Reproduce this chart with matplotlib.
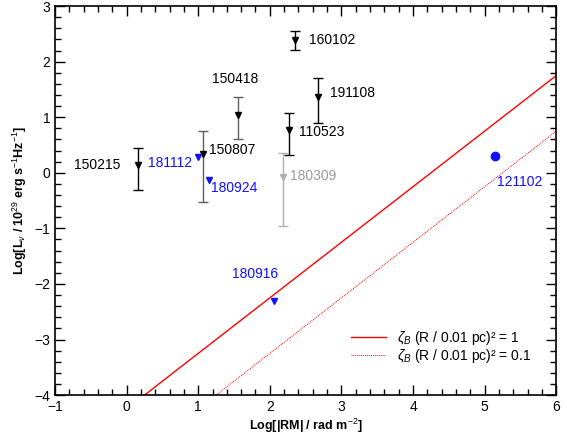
import numpy as np
import matplotlib
matplotlib.use("Agg")
import matplotlib.pyplot as plt
from matplotlib.ticker import MultipleLocator

plt.rcParams['font.family'] = ['Liberation Sans', 'DejaVu Sans']
plt.rcParams['mathtext.fontset'] = 'custom'
plt.rcParams['mathtext.rm'] = 'Liberation Sans'
plt.rcParams['mathtext.it'] = 'Liberation Sans:italic'
plt.rcParams['mathtext.bf'] = 'Liberation Sans:bold'

# FRB upper limits: name, log|RM|, log L, error down, error up
names = ['150215', '160102', '150418', '191108', '110523', '150807', '180309']
log_rm = [0.16, 2.35, 1.55, 2.67, 2.27, 1.07, 2.18]
log_l = [0.14, 2.39, 1.04, 1.37, 0.77, 0.34, -0.07]
err_lo = [0.45, 0.18, 0.44, 0.47, 0.45, 0.86, 0.88]
err_hi = [0.30, 0.16, 0.33, 0.34, 0.31, 0.42, 0.42]
bar_colors = ['black', 'black', '#606060', 'black', 'black', '#606060', '#b0b0b0']
mark_colors = ['black', 'black', 'black', 'black', 'black', 'black', '#b0b0b0']
text_colors = ['black', 'black', 'black', 'black', 'black', 'black', '#999999']
# label offsets in pixels (dx, dy) and alignment
offsets = [(-18, 0), (14, 0), (-2, 36), (12, 4), (10, -2), (6, 4), (7, 1)]
aligns = ['right', 'left', 'center', 'left', 'left', 'left', 'left']

# blue sources without error bars
blue_names = ['181112', '180924', '180916', '121102']
blue_rm = [1.00, 1.15, 2.06, 5.15]
blue_l = [0.28, -0.13, -2.31, 0.31]
blue_markers = ['v', 'v', 'v', 'o']
blue_offsets = [(-6, -6), (2, -8), (-19, 27), (2, -26)]
blue_aligns = ['right', 'left', 'center', 'left']

# model lines: log L = log|RM| + offset
model_offsets = [-4.25, -5.25]
model_labels = [r'$\zeta_B$ (R / 0.01 pc)² = 1', r'$\zeta_B$ (R / 0.01 pc)² = 0.1']

fig = plt.figure(figsize=(5.67, 4.38), dpi=100)
ax = fig.add_axes([0.097, 0.098, 0.884, 0.888])

blue = '#1010ff'

for i in range(len(names)):
    ax.errorbar(log_rm[i], log_l[i], yerr=[[err_lo[i]], [err_hi[i]]], fmt='none',
                ecolor=bar_colors[i], elinewidth=1, capsize=3.5, capthick=1)
    ax.plot(log_rm[i], log_l[i], 'v', color=mark_colors[i], markersize=5)
    ax.annotate(names[i], (log_rm[i], log_l[i]), xytext=offsets[i],
                textcoords='offset pixels', ha=aligns[i], va='center',
                fontsize=10, color=text_colors[i])

for i in range(len(blue_names)):
    ax.plot(blue_rm[i], blue_l[i], blue_markers[i], color=blue,
            markersize=5 if blue_markers[i] == 'v' else 6)
    ax.annotate(blue_names[i], (blue_rm[i], blue_l[i]), xytext=blue_offsets[i],
                textcoords='offset pixels', ha=blue_aligns[i], va='center',
                fontsize=10, color=blue)

xx = np.linspace(-1, 6, 50)
ax.plot(xx, xx + model_offsets[0], color='red', lw=1, label=model_labels[0])
ax.plot(xx, xx + model_offsets[1], color='red', lw=0.7, ls=(0, (1, 1)), label=model_labels[1])

ax.set_xlim(-1, 6)
ax.set_ylim(-4, 3)
ax.xaxis.set_major_locator(MultipleLocator(1))
ax.xaxis.set_minor_locator(MultipleLocator(0.2))
ax.yaxis.set_major_locator(MultipleLocator(1))
ax.yaxis.set_minor_locator(MultipleLocator(0.2))
ax.tick_params(which='both', direction='in', top=True, right=True, labelsize=10, width=1)
ax.tick_params(which='major', length=7)
ax.tick_params(which='minor', length=4.5)
for s in ax.spines.values():
    s.set_linewidth(1.2)

ax.set_xlabel(r'Log[|RM| / rad m$^{-2}$]', fontsize=9, fontweight='bold', labelpad=2)
ax.set_ylabel(r'Log[L$_\nu$ / 10$^{29}$ erg s$^{-1}$Hz$^{-1}$]', fontsize=9, fontweight='bold', labelpad=4)

ax.legend(loc='lower right', bbox_to_anchor=(0.976, 0.045), frameon=False, fontsize=10,
          handlelength=2.5, handletextpad=0.8, labelspacing=0.0)

fig.savefig('out.png', dpi=100)
